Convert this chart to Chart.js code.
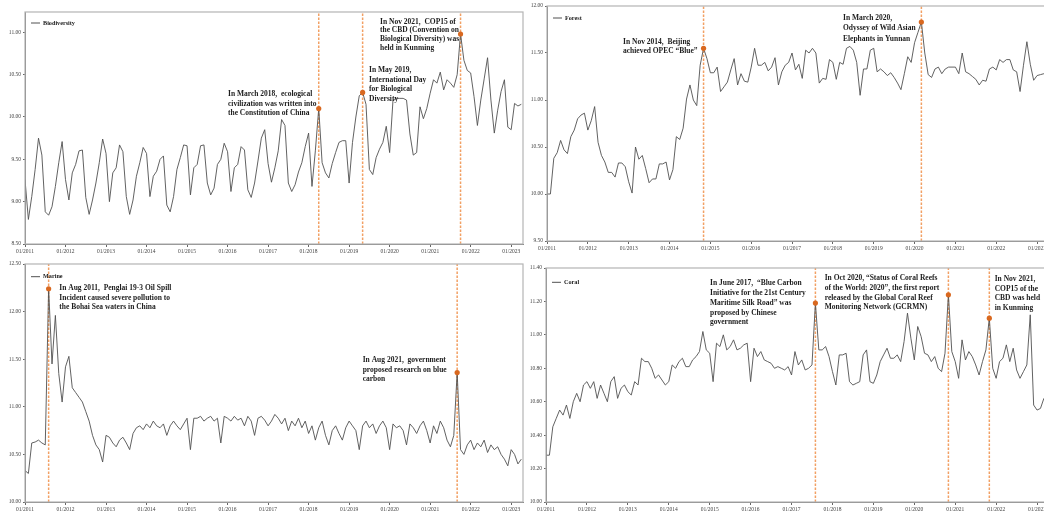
<!DOCTYPE html>
<html>
<head>
<meta charset="utf-8">
<script src="https://cdn.jsdelivr.net/npm/chart.js@4.4.1/dist/chart.umd.min.js"></script>
<style>
  html, body { margin: 0; padding: 0; background: #fff; overflow: hidden; width: 1044px; height: 517px; }
  canvas { position: absolute; }
</style>
</head>
<body>
<canvas id="bio" width="530" height="258" style="left:0;top:0"></canvas>
<canvas id="forest" width="540" height="256" style="left:520px;top:0"></canvas>
<canvas id="marine" width="530" height="267" style="left:0;top:250px"></canvas>
<canvas id="coral" width="540" height="267" style="left:520px;top:250px"></canvas>
<script>
// Monthly index values, January 2011 to April 2023 (one row per year)
const START_YEAR = 2011;

const biodiversity = [
  9.26, 8.79, 9.06, 9.38, 9.75, 9.55, 8.88, 8.84, 8.94, 9.18, 9.46, 9.71,
  9.26, 9.02, 9.34, 9.44, 9.60, 9.61, 9.05, 8.85, 9.02, 9.22, 9.46, 9.74,
  9.57, 9.00, 9.34, 9.40, 9.67, 9.59, 9.06, 8.85, 9.02, 9.30, 9.46, 9.64,
  9.57, 9.06, 9.30, 9.36, 9.50, 9.54, 8.96, 8.88, 9.06, 9.38, 9.52, 9.67,
  9.66, 9.08, 9.40, 9.44, 9.66, 9.67, 9.22, 9.08, 9.16, 9.44, 9.50, 9.69,
  9.59, 9.12, 9.40, 9.44, 9.65, 9.61, 9.14, 9.05, 9.22, 9.48, 9.75, 9.85,
  9.45, 9.23, 9.40, 9.60, 9.97, 9.90, 9.22, 9.12, 9.20, 9.35, 9.46, 9.65,
  9.81, 9.18, 9.60, 10.10, 9.46, 9.34, 9.28, 9.45, 9.58, 9.70, 9.72, 9.72,
  9.22, 9.70, 10.00, 10.25, 10.29, 10.15, 9.38, 9.32, 9.52, 9.62, 9.70, 9.89,
  9.58, 10.20, 10.22, 10.22, 10.22, 10.20, 9.80, 9.55, 9.58, 10.12, 9.98, 10.10,
  10.28, 10.44, 10.40, 10.53, 10.32, 10.44, 10.40, 10.35, 10.50, 10.98, 10.67, 10.55,
  10.52, 10.24, 9.90, 10.20, 10.45, 10.70, 10.20, 9.81, 10.08, 10.30, 10.44, 9.88,
  9.85, 10.16, 10.13, 10.15
];

const forest = [
  10.00, 10.00, 10.38, 10.44, 10.57, 10.47, 10.43, 10.61, 10.68, 10.80, 10.84, 10.86,
  10.68, 10.78, 10.93, 10.55, 10.41, 10.34, 10.23, 10.23, 10.18, 10.33, 10.33, 10.29,
  10.13, 10.01, 10.50, 10.37, 10.41, 10.27, 10.12, 10.16, 10.16, 10.32, 10.32, 10.34,
  10.15, 10.26, 10.61, 10.58, 10.70, 11.01, 11.16, 11.00, 10.94, 11.37, 11.55, 11.44,
  11.29, 11.29, 11.35, 11.09, 11.14, 11.19, 11.32, 11.44, 11.16, 11.28, 11.20, 11.19,
  11.35, 11.55, 11.37, 11.37, 11.40, 11.31, 11.35, 11.45, 11.16, 11.30, 11.37, 11.40,
  11.50, 11.32, 11.38, 11.23, 11.53, 11.50, 11.55, 11.50, 11.18, 11.23, 11.22, 11.43,
  11.40, 11.22, 11.40, 11.38, 11.55, 11.57, 11.53, 11.40, 11.05, 11.33, 11.33, 11.53,
  11.55, 11.30, 11.33, 11.30, 11.26, 11.29, 11.24, 11.18, 11.11, 11.28, 11.46, 11.40,
  11.61, 11.72, 11.83, 11.50, 11.27, 11.24, 11.33, 11.35, 11.28, 11.33, 11.35, 11.35,
  11.35, 11.28, 11.50, 11.30, 11.28, 11.25, 11.22, 11.16, 11.21, 11.20, 11.33, 11.35,
  11.32, 11.43, 11.40, 11.43, 11.43, 11.32, 11.30, 11.09, 11.37, 11.62, 11.38, 11.21,
  11.26, 11.27, 11.28, 11.30
];

const marine = [
  10.33, 10.30, 10.62, 10.63, 10.65, 10.62, 10.60, 12.24, 11.45, 11.96, 11.35, 11.05,
  11.42, 11.53, 11.20, 11.15, 11.10, 11.05, 10.95, 10.85, 10.70, 10.60, 10.55, 10.42,
  10.70, 10.68, 10.62, 10.58, 10.65, 10.68, 10.62, 10.55, 10.72, 10.78, 10.80, 10.76,
  10.82, 10.78, 10.85, 10.80, 10.78, 10.82, 10.70, 10.80, 10.85, 10.80, 10.76, 10.82,
  10.88, 10.55, 10.88, 10.88, 10.90, 10.85, 10.88, 10.90, 10.85, 10.88, 10.62, 10.90,
  10.88, 10.85, 10.90, 10.86, 10.88, 10.80, 10.90, 10.85, 10.70, 10.88, 10.90, 10.86,
  10.80, 10.85, 10.92, 10.88, 10.82, 10.88, 10.75, 10.85, 10.80, 10.88, 10.78, 10.85,
  10.72, 10.80, 10.65, 10.78, 10.85, 10.70, 10.60, 10.75, 10.80, 10.72, 10.65, 10.78,
  10.85, 10.80, 10.75, 10.55, 10.80, 10.85, 10.78, 10.82, 10.72, 10.80, 10.85, 10.78,
  10.55, 10.82, 10.78, 10.80, 10.75, 10.60, 10.82, 10.78, 10.72, 10.80, 10.85, 10.75,
  10.62, 10.80, 10.72, 10.85, 10.78, 10.65, 10.58, 10.70, 11.36, 10.55, 10.50, 10.60,
  10.65, 10.55, 10.62, 10.58, 10.65, 10.52, 10.60, 10.55, 10.58, 10.50, 10.45, 10.38,
  10.55, 10.50, 10.40, 10.45
];

const coral = [
  10.28, 10.28, 10.45, 10.50, 10.55, 10.52, 10.58, 10.50, 10.60, 10.65, 10.60, 10.70,
  10.72, 10.68, 10.72, 10.62, 10.70, 10.65, 10.60, 10.72, 10.75, 10.62, 10.68, 10.70,
  10.66, 10.64, 10.72, 10.70, 10.86, 10.84, 10.84, 10.80, 10.74, 10.76, 10.73, 10.70,
  10.72, 10.82, 10.80, 10.84, 10.86, 10.81, 10.81, 10.85, 10.87, 10.90, 11.02, 10.91,
  10.89, 10.72, 10.95, 10.93, 11.00, 10.91, 10.93, 10.97, 10.91, 10.92, 10.94, 10.95,
  10.72, 10.92, 10.87, 10.90, 10.85, 10.84, 10.83, 10.80, 10.81, 10.80, 10.79, 10.81,
  10.76, 10.90, 10.82, 10.85, 10.79, 10.80, 10.82, 11.19, 10.91, 10.91, 10.93, 10.87,
  10.78, 10.70, 10.88, 10.88, 10.89, 10.72, 10.70, 10.71, 10.72, 10.88, 10.91, 10.72,
  10.71, 10.76, 10.84, 10.88, 10.92, 10.86, 10.86, 10.88, 10.84, 10.96, 11.13, 10.98,
  10.85, 11.05, 10.99, 10.89, 10.88, 10.84, 10.87, 10.80, 10.78, 10.89, 11.24, 10.90,
  10.84, 10.74, 10.97, 10.85, 10.90, 10.87, 10.82, 10.76, 10.84, 10.91, 11.10, 10.80,
  10.74, 10.84, 10.86, 10.94, 10.84, 10.92, 10.79, 10.74, 10.78, 10.82, 11.12, 10.58,
  10.55, 10.56, 10.62, 10.64
];

// Month indices (0 = January 2011) of the marked events
const biodiversityEvents = [87, 100, 129];
const forestEvents = [46, 110];
const marineEvents = [7, 128];
const coralEvents = [79, 118, 130];

// Axis ticks
const xTickMonths = [0, 12, 24, 36, 48, 60, 72, 84, 96, 108, 120, 132, 144];
const biodiversityTicks = [8.5, 9.0, 9.5, 10.0, 10.5, 11.0];
const forestTicks = [9.5, 10.0, 10.5, 11.0, 11.5, 12.0];
const marineTicks = [10.0, 10.5, 11.0, 11.5, 12.0, 12.5];
const coralTicks = [10.0, 10.2, 10.4, 10.6, 10.8, 11.0, 11.2, 11.4];

// Event notes
const biodiversityNotes = [
  { lines: ['In March 2018,  ecological', 'civilization was written into', 'the Constitution of China'], dx: 203, dy: 82.5, lh: 9.5 },
  { lines: ['In May 2019,', 'International Day', 'for Biological', 'Diversity'], dx: 344, dy: 58, lh: 9.6 },
  { lines: ['In Nov 2021,  COP15 of', 'the CBD (Convention on', 'Biological Diversity) was', 'held in Kunming'], dx: 355, dy: 9.7, lh: 8.7 }
];
const forestNotes = [
  { lines: ['In Nov 2014,  Beijing', 'achieved OPEC \u201cBlue\u201d'], dx: 76, dy: 36.3, lh: 8.8 },
  { lines: ['In March 2020,', 'Odyssey of Wild Asian', 'Elephants in Yunnan'], dx: 296, dy: 12.3, lh: 10.2 }
];
const marineNotes = [
  { lines: ['In Aug 2011,  Penglai 19-3 Oil Spill', 'Incident caused severe pollution to', 'the Bohai Sea waters in China'], dx: 34.3, dy: 24.3, lh: 9.5 },
  { lines: ['In Aug 2021,  government', 'proposed research on blue', 'carbon'], dx: 337.7, dy: 96.3, lh: 9.4 }
];
const coralNotes = [
  { lines: ['In June 2017,  \u201cBlue Carbon', 'Initiative for the 21st Century', 'Maritime Silk Road\u201d was', 'proposed by Chinese', 'government'], dx: 164, dy: 15.3, lh: 9.8 },
  { lines: ['In Oct 2020, \u201cStatus of Coral Reefs', 'of the World: 2020\u201d, the first report', 'released by the Global Coral Reef', 'Monitoring Network (GCRMN)'], dx: 278.7, dy: 10.3, lh: 9.7 },
  { lines: ['In Nov 2021,', 'COP15 of the', 'CBD was held', 'in Kunming'], dx: 448.7, dy: 11, lh: 9.6 }
];

const SERIF = '"Liberation Serif", "Times New Roman", serif';
const LINE_COLOR = '#505050';
const EVENT_LINE = '#F2A064';
const EVENT_DOT = '#D9681F';

// Frame round the plot area
const framePlugin = {
  id: 'frame',
  afterDraw(chart) {
    const a = chart.chartArea, ctx = chart.ctx;
    ctx.save();
    ctx.strokeStyle = '#b4b4b4';
    ctx.lineWidth = 1.2;
    ctx.strokeRect(a.left, a.top, a.right - a.left, a.bottom - a.top);
    ctx.restore();
  }
};

// Series key in the upper left corner of the plot area
const keyPlugin = {
  id: 'key',
  afterDatasetsDraw(chart, args, opts) {
    const a = chart.chartArea, ctx = chart.ctx;
    const ds = chart.data.datasets[0];
    const y = a.top + opts.dy;
    ctx.save();
    ctx.strokeStyle = ds.borderColor;
    ctx.lineWidth = 1;
    ctx.beginPath();
    ctx.moveTo(a.left + 6, y);
    ctx.lineTo(a.left + 15, y);
    ctx.stroke();
    ctx.font = 'bold 6.2px ' + SERIF;
    ctx.fillStyle = '#222';
    ctx.textBaseline = 'middle';
    ctx.textAlign = 'left';
    ctx.fillText(ds.label, a.left + 18, y);
    ctx.restore();
  }
};

// Bold notes next to the event lines
const notesPlugin = {
  id: 'notes',
  afterDatasetsDraw(chart, args, opts) {
    const a = chart.chartArea, ctx = chart.ctx;
    ctx.save();
    ctx.font = 'bold 7.5px ' + SERIF;
    ctx.fillStyle = '#1c1c1c';
    ctx.textBaseline = 'middle';
    ctx.textAlign = 'left';
    (opts.items || []).forEach(n => {
      n.lines.forEach((t, k) => ctx.fillText(t, a.left + n.dx, a.top + n.dy + k * n.lh));
    });
    ctx.restore();
  }
};

function makePanel(id, cfg) {
  const series = cfg.values.map((v, i) => ({ x: i, y: v }));
  const datasets = [{
    label: cfg.label,
    data: series,
    borderColor: LINE_COLOR,
    backgroundColor: LINE_COLOR,
    borderWidth: 0.9,
    pointRadius: 0,
    tension: 0,
    order: 2
  }];
  cfg.events.forEach(m => {
    datasets.push({
      label: 'event',
      data: [{ x: m, y: cfg.yMin }, { x: m, y: cfg.yMax }],
      borderColor: EVENT_LINE,
      borderWidth: 1.5,
      borderDash: [2.5, 1.5],
      pointRadius: 0,
      order: 3
    });
  });
  datasets.push({
    label: 'marker',
    data: cfg.events.map(m => ({ x: m, y: cfg.values[m] })),
    showLine: false,
    pointRadius: 2.6,
    pointBackgroundColor: EVENT_DOT,
    pointBorderColor: EVENT_DOT,
    pointBorderWidth: 0,
    order: 1
  });

  const tickFont = { family: SERIF, size: 5.5 };
  return new Chart(document.getElementById(id), {
    type: 'line',
    data: { datasets },
    options: {
      responsive: false,
      animation: false,
      devicePixelRatio: 1,
      layout: { padding: cfg.padding },
      plugins: {
        legend: { display: false },
        tooltip: { enabled: false },
        key: { dy: cfg.keyDy },
        notes: { items: cfg.notes }
      },
      scales: {
        x: {
          type: 'linear',
          min: 0,
          max: 147.5,
          afterBuildTicks: s => { s.ticks = xTickMonths.map(v => ({ value: v })); },
          afterFit: s => { s.height = cfg.xAxisHeight; },
          ticks: {
            autoSkip: false,
            maxRotation: 0,
            padding: 1,
            color: '#444',
            font: tickFont,
            callback: v => '01/' + (START_YEAR + v / 12)
          },
          grid: { drawOnChartArea: false, drawTicks: true, tickLength: 3, color: '#666' },
          border: { display: true, color: '#777', width: 1 }
        },
        y: {
          type: 'linear',
          min: cfg.yMin,
          max: cfg.yMax,
          afterBuildTicks: s => { s.ticks = cfg.yTicks.map(v => ({ value: v })); },
          afterFit: s => { s.width = cfg.yAxisWidth; },
          ticks: {
            padding: 2,
            color: '#444',
            font: tickFont,
            callback: v => v.toFixed(2)
          },
          grid: { drawOnChartArea: false, drawTicks: true, tickLength: 2, color: '#666' },
          border: { display: true, color: '#777', width: 1 }
        }
      }
    },
    plugins: [framePlugin, keyPlugin, notesPlugin]
  });
}

makePanel('bio', {
  label: 'Biodiversity', values: biodiversity, events: biodiversityEvents,
  yMin: 8.5, yMax: 11.24, yTicks: biodiversityTicks, notes: biodiversityNotes, keyDy: 11,
  padding: { left: 0, top: 12, right: 7, bottom: 0 }, yAxisWidth: 25, xAxisHeight: 14
});
makePanel('forest', {
  label: 'Forest', values: forest, events: forestEvents,
  yMin: 9.5, yMax: 12.0, yTicks: forestTicks, notes: forestNotes, keyDy: 12,
  padding: { left: 0, top: 6, right: 11, bottom: 0 }, yAxisWidth: 27, xAxisHeight: 15
});
makePanel('marine', {
  label: 'Marine', values: marine, events: marineEvents,
  yMin: 10.0, yMax: 12.5, yTicks: marineTicks, notes: marineNotes, keyDy: 12.7,
  padding: { left: 0, top: 14, right: 7, bottom: 0 }, yAxisWidth: 25, xAxisHeight: 15
});
makePanel('coral', {
  label: 'Coral', values: coral, events: coralEvents,
  yMin: 10.0, yMax: 11.4, yTicks: coralTicks, notes: coralNotes, keyDy: 14.3,
  padding: { left: 0, top: 18, right: 11, bottom: 0 }, yAxisWidth: 26, xAxisHeight: 15
});
</script>
</body>
</html>
